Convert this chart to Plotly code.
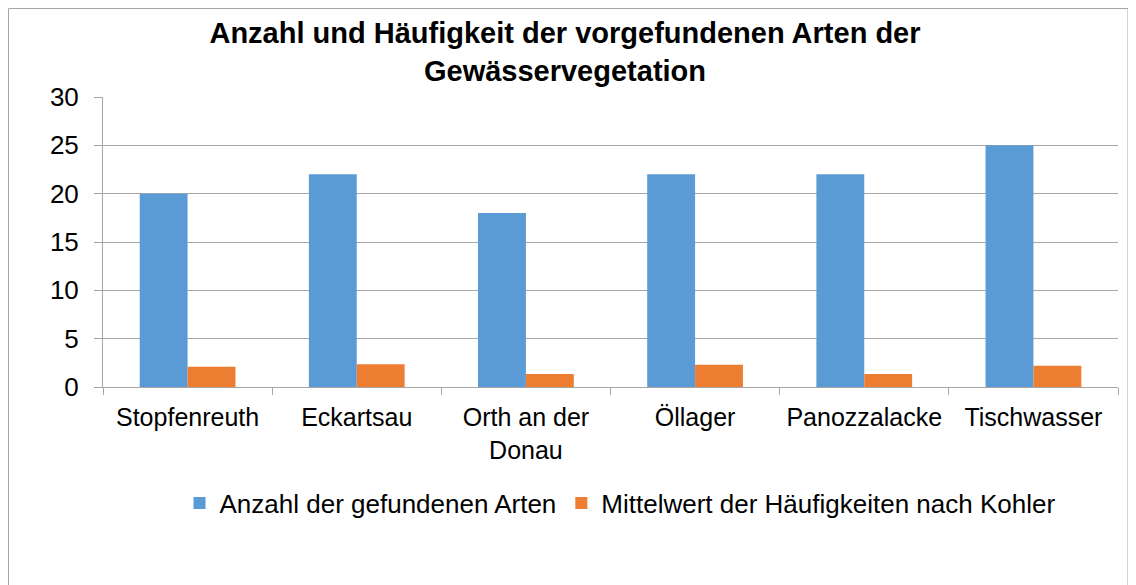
import plotly.graph_objects as go

categories = ["Stopfenreuth", "Eckartsau", "Orth an der<br>Donau", "Öllager", "Panozzalacke", "Tischwasser"]
anzahl = [20, 22, 18, 22, 22, 25]
mittelwert = [2.1, 2.35, 1.35, 2.3, 1.35, 2.2]
series_names = ["Anzahl der gefundenen Arten", "Mittelwert der Häufigkeiten nach Kohler"]
y_ticks = [0, 5, 10, 15, 20, 25, 30]

FONT = "Liberation Sans, Arial, sans-serif"
OFF = 8  # page body margin
L, R, T, B = 103 - OFF, 1118 - OFF, 97 - OFF, 387 - OFF

fig = go.Figure()
fig.add_trace(go.Bar(x=categories, y=anzahl, name=series_names[0], marker=dict(color="#5B9BD5", line=dict(width=0))))
fig.add_trace(go.Bar(x=categories, y=mittelwert, name=series_names[1], marker=dict(color="#ED7D31", line=dict(width=0))))

fig.update_layout(
    width=1136, height=585,
    margin=dict(l=L, r=1136 - R, t=T, b=585 - B, autoexpand=False),
    paper_bgcolor="white", plot_bgcolor="white",
    barmode="group", bargap=0.434, bargroupgap=0,
    font=dict(family=FONT, size=25, color="#000000"),
    title=dict(text="<b>Anzahl und Häufigkeit der vorgefundenen Arten der<br>Gewässervegetation</b>",
               x=(565 - OFF) / 1136, xref="container", xanchor="center",
               y=1 - (43 - OFF) / 585, yref="container", yanchor="middle",
               font=dict(family=FONT, size=29, color="#000000")),
    legend=dict(orientation="h", x=(612 - L) / (R - L), xanchor="center",
                y=(B - (503 - OFF)) / (B - T), yanchor="middle",
                font=dict(size=26), itemwidth=30, tracegroupgap=0, traceorder="normal"),
    showlegend=True,
)
fig.update_xaxes(showline=True, linecolor="#A6A6A6", linewidth=1, ticks="outside", tickson="boundaries",
                 ticklen=7, tickcolor="#A6A6A6", showgrid=False, tickfont=dict(size=25), tickangle=0,
                 automargin=False, ticklabelstandoff=8)
fig.update_yaxes(range=[0, 30], tickvals=y_ticks, showgrid=True, gridcolor="#A6A6A6", gridwidth=1,
                 showline=True, linecolor="#A6A6A6", ticks="outside", ticklen=8, tickcolor="#A6A6A6",
                 zeroline=False, tickfont=dict(size=26), automargin=False, ticklabelstandoff=10)

fig.add_shape(type="rect", xref="paper", yref="paper",
              x0=(0.5 - L) / (R - L), x1=(1120 - L) / (R - L),
              y0=(B - 620) / (B - T), y1=(B - 0.5) / (B - T),
              line=dict(color="#A6A6A6", width=1), fillcolor="rgba(0,0,0,0)", layer="below")

fig.write_html("out.html")
